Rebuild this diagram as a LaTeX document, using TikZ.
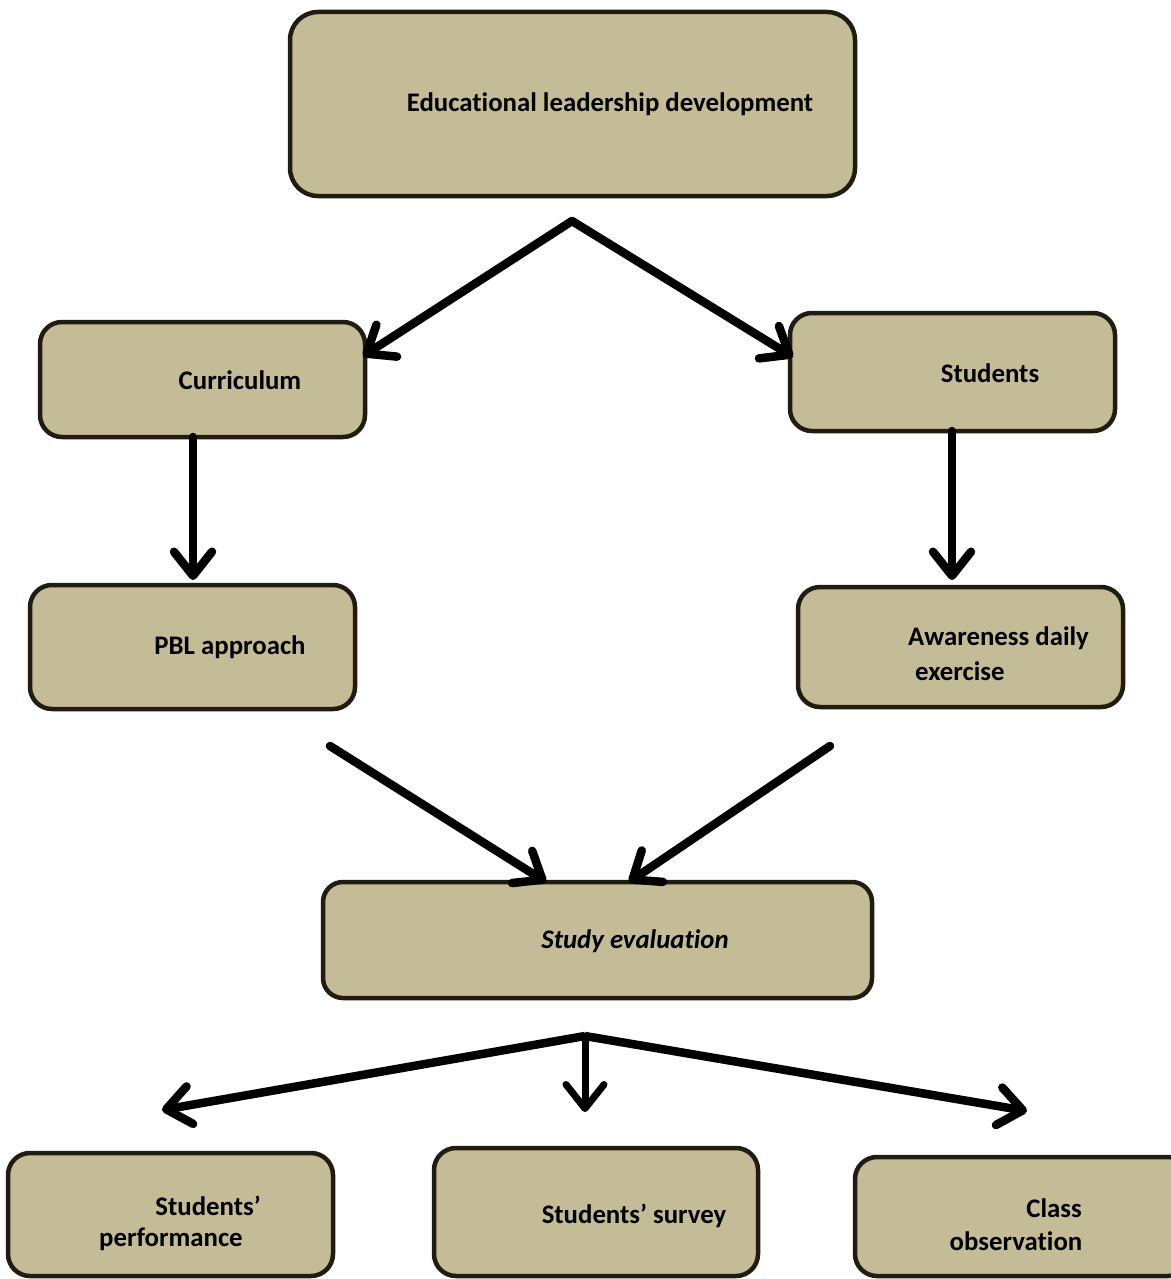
\documentclass[tikz,border=0pt]{standalone}
\usepackage{fontspec}
\setmainfont{Carlito}[Ligatures=NoCommon]
\usetikzlibrary{arrows.meta}
\definecolor{boxfill}{RGB}{196,188,151}
\definecolor{boxline}{RGB}{32,28,18}
\begin{document}
\begin{tikzpicture}[x=1pt,y=-1pt,
  box/.style={draw=boxline,fill=boxfill,line width=4.5pt,rounded corners=22pt},
  lbl/.style={font=\fontsize{26.8}{33}\selectfont\bfseries,inner sep=0pt,align=left},
  link/.style={line width=8.5pt,line cap=round,-{Straight Barb[length=24pt,width=38pt,line cap=round,line join=round]}}]
\useasboundingbox (0,0) rectangle (1170,1279);
% boxes
\draw[box,rounded corners=28pt] (290,12) rectangle (855,196);
\node (top) at (572,104) {};
\draw[box] (40,322) rectangle (365,437);
\node (cur) at (193,380) {};
\draw[box] (790,313) rectangle (1115,431);
\node (stu) at (952,372) {};
\draw[box] (30,585) rectangle (355,709);
\node (pbl) at (192,647) {};
\draw[box] (798,587) rectangle (1123,707);
\node (awa) at (960,647) {};
\draw[box,rounded corners=20pt] (323,882) rectangle (872,998);
\node (eva) at (597,940) {};
\draw[box] (8,1153) rectangle (333,1276);
\node (per) at (170,1214) {};
\draw[box] (434,1148) rectangle (758,1276);
\node (sur) at (596,1212) {};
\draw[box] (855,1157) rectangle (1190,1276);
\node (obs) at (1012,1216) {};
% labels
\node[lbl] (tTop) at (610,104) {Educational leadership development};
\node[lbl] (tCur) at (240,380) {Curriculum};
\node[lbl] (tStu) at (990,373) {Students};
\node[lbl] (tPbl) at (230,647) {PBL approach};
\node[lbl,anchor=west] (tAwa1) at (908,638) {Awareness daily};
\node[lbl,anchor=west] (tAwa2) at (915,671) {exercise};
\node[lbl,font=\fontsize{26.8}{33}\selectfont\bfseries\itshape] (tEva) at (635,941) {Study evaluation};
\node[lbl] (tPer1) at (208,1206) {Students’};
\node[lbl] (tPer2) at (171,1239) {performance};
\node[lbl] (tSur) at (634,1216) {Students’ survey};
\node[lbl] (tObs1) at (1054,1208) {Class};
\node[lbl] (tObs2) at (1016,1241) {observation};
% split points and arrow ends
\coordinate (s1) at (572,221);
\coordinate (s2) at (585,1036);
\coordinate (e1) at (363,356);
\coordinate (e2) at (793,357);
\coordinate (e3) at (193,580);
\coordinate (e4) at (952,580);
\coordinate (a1) at (330,746);
\coordinate (a2) at (830,746);
\coordinate (e5) at (546,882);
\coordinate (e6) at (629,882);
\coordinate (e7) at (162,1110);
\coordinate (e8) at (585,1112);
\coordinate (e9) at (1027,1111);
% connectors
\draw[link] (s1) -- (e1);
\draw[link] (s1) -- (e2);
\draw[link] (cur.south |- 0,437) -- (e3);
\draw[link] (stu.south |- 0,431) -- (e4);
\draw[link] (a1) -- (e5);
\draw[link] (a2) -- (e6);
\draw[link,line cap=butt] (s2) -- (e7);
\draw[link,line width=7pt] (s2) -- (e8);
\draw[link,line cap=butt] (s2) -- (e9);
\end{tikzpicture}
\end{document}
